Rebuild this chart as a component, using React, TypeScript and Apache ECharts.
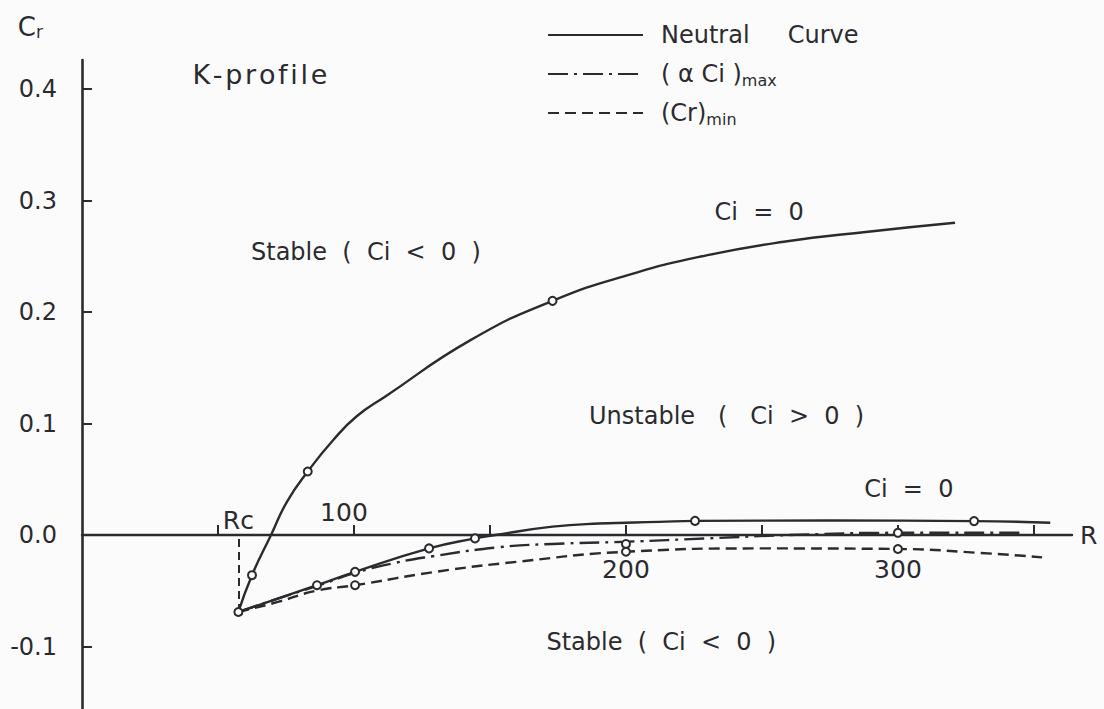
import React, { useEffect, useRef } from "react";
import * as echarts from "echarts";

// Neutral curve of the K-profile (Reynolds number R vs phase velocity Cr)
const neutralUpper: number[][] = [
  [57.5, -0.069], [62.5, -0.036], [69.5, 0.0], [75.4, 0.03], [83, 0.057],
  [92.3, 0.085], [101, 0.1065], [111.4, 0.124], [143, 0.175], [173, 0.21],
  [202, 0.234], [230, 0.251], [258, 0.263], [289, 0.272], [321, 0.28],
];
const neutralLower: number[][] = [
  [57.5, -0.069], [86.4, -0.045], [100.4, -0.033], [127.6, -0.012],
  [144.5, -0.003], [152, 0.0], [173, 0.0075], [190, 0.0103], [212, 0.0118],
  [225.4, 0.0127], [275, 0.013], [328, 0.0125], [356, 0.011],
];
// Cr at the maximum amplification rate
const alphaCiMax: number[][] = [
  [57.5, -0.069], [72, -0.057], [86, -0.046], [100.4, -0.034], [115, -0.025],
  [129, -0.019], [153, -0.011], [173, -0.008], [200, -0.006], [230, -0.003],
  [260, 0.0], [300, 0.002], [346, 0.002],
];
// minimum phase velocity
const crMin: number[][] = [
  [57.5, -0.069], [72, -0.06], [86, -0.05], [100.4, -0.045], [130, -0.033],
  [160, -0.024], [200, -0.015], [250, -0.012], [300, -0.0125], [330, -0.016],
  [353, -0.02],
];
// computed points (open circles)
const computedPoints: number[][] = [
  [57.5, -0.069], [62.5, -0.036], [83, 0.057], [173, 0.21],
  [86.4, -0.045], [100.4, -0.033], [127.6, -0.012], [144.5, -0.003],
  [225.4, 0.0127], [328, 0.0125],
  [200, -0.008], [300, 0.002],
  [100.4, -0.045], [200, -0.015], [300, -0.0125],
];

const RC = 57.5;
const RC_CR = -0.069;

const xTicks = [50, 100, 150, 200, 250, 300, 350];
const yTicks = [-0.1, 0.1, 0.2, 0.3, 0.4];
const yLabels = [-0.1, 0.0, 0.1, 0.2, 0.3, 0.4];

// x-axis labels: [R, text, side]
const xLabels: [number, string, string][] = [
  [RC, "Rc", "top"],
  [100, "100", "top"],
  [200, "200", "bottom"],
  [300, "300", "bottom"],
];

// region annotations: [R, Cr, text]
const HS = "\u200A";
const annotations: [number, number, string][] = [
  [65.4, 0.413, ["K", "-", "p", "r", "o", "f", "i", "l", "e"].join(HS)],
  [104.4, 0.254, "Stable  (  Ci  <  0  )"],
  [249, 0.29, "Ci  =  0"],
  [237, 0.107, "Unstable   (   Ci  >  0  )"],
  [304, 0.041, "Ci  =  0"],
  [213, -0.096, "Stable  (  Ci  <  0  )"],
];

const NAMES = ["Neutral Curve", "(αCi)max", "(Cr)min"];
const FONT = "DejaVu Sans";
const INK = "#2b2b2f";

export default function App() {
  const ref = useRef<HTMLDivElement>(null);

  useEffect(() => {
    if (!ref.current) return;
    const chart = echarts.init(ref.current, null, { renderer: "svg" });

    const lineBase = {
      type: "line",
      symbol: "none",
      smooth: 0.5,
      silent: true,
      z: 3,
    };

    const legendText: Record<string, string> = {
      "Neutral Curve": "Neutral     Curve",
      "(αCi)max": "( α Ci ){sub|max}",
      "(Cr)min": "(Cr){sub|min}",
    };

    const labelSeries = {
      type: "scatter",
      silent: true,
      symbol: "circle",
      symbolSize: 0,
      itemStyle: { color: INK, opacity: 1 },
      z: 6,
    };

    chart.setOption({
      animation: false,
      backgroundColor: "#fcfbfc",
      textStyle: { fontFamily: FONT, color: INK },
      grid: { left: 82, right: 32, top: 60, bottom: 0, containLabel: false },
      legend: {
        data: NAMES,
        orient: "vertical",
        left: 542,
        top: 16,
        itemWidth: 95,
        itemHeight: 14,
        itemGap: 11,
        selectedMode: false,
        itemStyle: { opacity: 0 },
        formatter: (n: string) => legendText[n] ?? n,
        textStyle: {
          fontFamily: FONT,
          fontSize: 24,
          color: INK,
          lineHeight: 28,
          padding: [0, 0, 0, 13],
          rich: {
            sub: { fontFamily: FONT, fontSize: 16, color: INK, verticalAlign: "bottom", lineHeight: 28, padding: [6, 0, 0, 0] },
          },
        },
      },
      xAxis: {
        type: "value",
        min: 0,
        max: 364,
        name: "R",
        nameLocation: "end",
        nameGap: 8,
        nameTextStyle: { fontFamily: FONT, fontSize: 25, color: INK, verticalAlign: "middle" },
        axisLine: { onZero: true, lineStyle: { color: INK, width: 2.4 } },
        axisTick: { show: true, inside: true, length: 10, customValues: xTicks, lineStyle: { color: INK, width: 2 } },
        axisLabel: { show: false },
        splitLine: { show: false },
      },
      yAxis: {
        type: "value",
        min: -0.156,
        max: 0.426,
        name: "C{s|r}",
        nameLocation: "end",
        nameGap: 20,
        nameTextStyle: {
          fontFamily: FONT,
          fontSize: 26,
          color: INK,
          align: "right",
          padding: [0, 39, 0, 0],
          rich: { s: { fontFamily: FONT, fontSize: 17, color: INK, verticalAlign: "bottom", padding: [6, 0, 0, 0] } },
        },
        axisLine: { show: true, onZero: false, lineStyle: { color: INK, width: 2.6 } },
        axisTick: { show: true, inside: true, length: 10, customValues: yTicks, lineStyle: { color: INK, width: 2 } },
        axisLabel: {
          customValues: yLabels,
          formatter: (v: number) => v.toFixed(1),
          margin: 25,
          fontFamily: FONT,
          fontSize: 24,
          color: INK,
        },
        splitLine: { show: false },
      },
      series: [
        {
          ...lineBase,
          name: NAMES[0],
          data: neutralUpper,
          lineStyle: { color: INK, width: 2.4, type: "solid" },
          itemStyle: { color: INK },
        },
        {
          ...lineBase,
          name: NAMES[0],
          data: neutralLower,
          lineStyle: { color: INK, width: 2.4, type: "solid" },
          itemStyle: { color: INK },
          markLine: {
            silent: true,
            symbol: "none",
            label: { show: false },
            lineStyle: { color: INK, width: 2, type: [8, 5] },
            data: [[{ coord: [RC, RC_CR] }, { coord: [RC, 0] }]],
          },
        },
        {
          ...lineBase,
          name: NAMES[1],
          data: alphaCiMax,
          lineStyle: { color: INK, width: 2.4, type: [20, 6, 3, 6] },
          itemStyle: { color: INK },
        },
        {
          ...lineBase,
          name: NAMES[2],
          data: crMin,
          lineStyle: { color: INK, width: 2.4, type: [11, 6] },
          itemStyle: { color: INK },
        },
        {
          type: "scatter",
          name: "points",
          data: computedPoints,
          symbol: "emptyCircle",
          symbolSize: 8,
          silent: true,
          z: 5,
          itemStyle: { color: INK, borderWidth: 1.6, opacity: 1 },
        },
        {
          ...labelSeries,
          name: "axis-labels",
          data: xLabels.map(([r, t, side]) => ({
            value: [r, 0],
            label: {
              show: true,
              formatter: t,
              position: side,
              distance: t === "Rc" ? 2 : side === "top" ? 10 : 22,
              offset: t === "100" ? [-10, 0] : [0, 0],
              fontFamily: FONT,
              fontSize: 25,
              color: INK,
            },
          })),
        },
        {
          ...labelSeries,
          name: "annotations",
          data: annotations.map(([r, c, t]) => ({
            value: [r, c],
            label: {
              show: true,
              formatter: t,
              position: "inside",
              fontFamily: FONT,
              fontSize: t.startsWith("K") ? 27 : 24,
              color: INK,
              textBorderWidth: 0,
            },
          })),
        },
      ],
    });

    return () => chart.dispose();
  }, []);

  return (
    <div
      ref={ref}
      style={{ position: "fixed", left: 0, top: 0, width: 1104, height: 709 }}
    />
  );
}
